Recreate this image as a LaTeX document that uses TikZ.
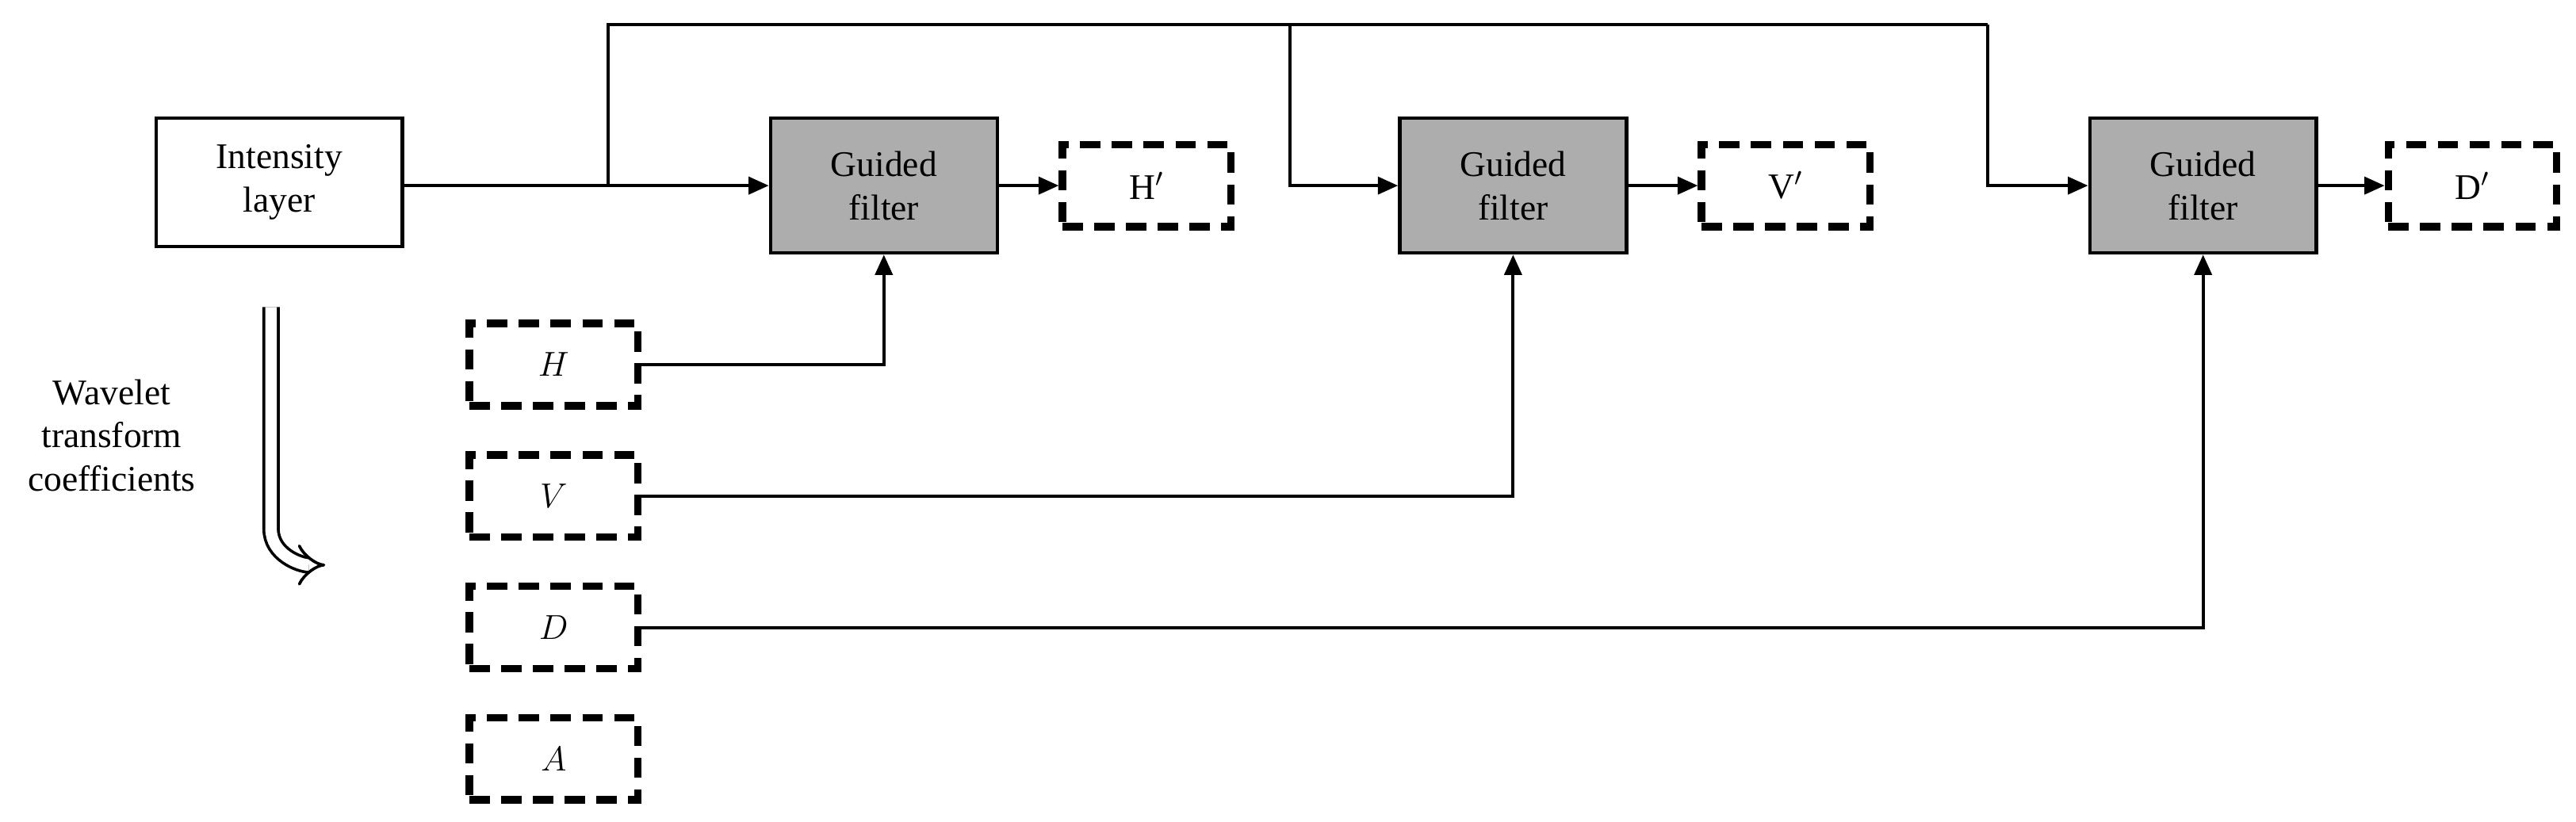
\documentclass[tikz,border=0pt]{standalone}
\usepackage{fontspec}
\setmainfont{Liberation Serif}
\usetikzlibrary{arrows.meta,positioning}

\begin{document}
\begin{tikzpicture}[x=0.02cm,y=-0.02cm,>={Triangle[length=7pt,width=6pt]},
	every node/.style={font=\fontsize{12.5}{15}\selectfont, align=center}]
    \tikzstyle{block}=[draw=black, line width=1.2pt, minimum width=3cm, minimum height=1.56cm, inner sep=0pt]
    \tikzstyle{filter}=[block, fill=black!32, minimum width=2.76cm, minimum height=1.64cm]
    \tikzstyle{coef}=[draw=black, line width=2.6pt, dash pattern=on 7pt off 4pt, minimum width=2.05cm, minimum height=1cm, inner sep=0pt]
    \tikzstyle{link}=[line width=1.1pt]

    \useasboundingbox (0,0) rectangle (1568,500);

    % Intensity layer and the three guided filters
    \node[block] (I) at (170,111) {Intensity\\layer};
    \node[filter] (G-1) at (538,113) {Guided\\filter};
    \node[filter] (G-2) at (921,113) {Guided\\filter};
    \node[filter] (G-3) at (1341,113) {Guided\\filter};

    % Outputs
    \node[coef] (O-1) at (698,113) {H$'$};
    \node[coef] (O-2) at (1087,113) {V$'$};
    \node[coef] (O-3) at (1505,113) {D$'$};

    % Wavelet coefficients
    \node[coef] (H) at (337,222) {$H$};
    \node[coef] (V) at (337,302) {$V$};
    \node[coef] (D) at (337,382) {$D$};
    \node[coef] (A) at (337,462) {$A$};

    \node (W) at (68,265) {Wavelet\\transform\\coefficients};
    \coordinate (w1) at (165,187);
    \coordinate (w2) at (198,344);
    \draw[double, double distance=4pt, line width=1pt, -{Implies}] (w1) -- (165,322) to[out=-90,in=180] (w2);

    % Intensity layer to the filters
    \coordinate (s) at (370,113);
    \coordinate (t1) at (370,15);
    \coordinate (t2) at (785,15);
    \coordinate (t3) at (1210,15);
    \draw[link,->] (I.east |- s) -- (G-1.west |- s);
    \draw[link] (s) -- (t1) -- (t3);
    \draw[link,->] (t2) -- (785,113) -- (G-2.west |- 0,113);
    \draw[link,->] (t3) -- (1210,113) -- (G-3.west |- 0,113);

    % Coefficients to the filters
    \draw[link,->] (H.east) -| (G-1.south);
    \draw[link,->] (V.east) -| (G-2.south);
    \draw[link,->] (D.east) -| (G-3.south);

    % Filters to the outputs
    \draw[link,->] (G-1.east) -- (O-1.west);
    \draw[link,->] (G-2.east) -- (O-2.west);
    \draw[link,->] (G-3.east) -- (O-3.west);
\end{tikzpicture}
\end{document}
